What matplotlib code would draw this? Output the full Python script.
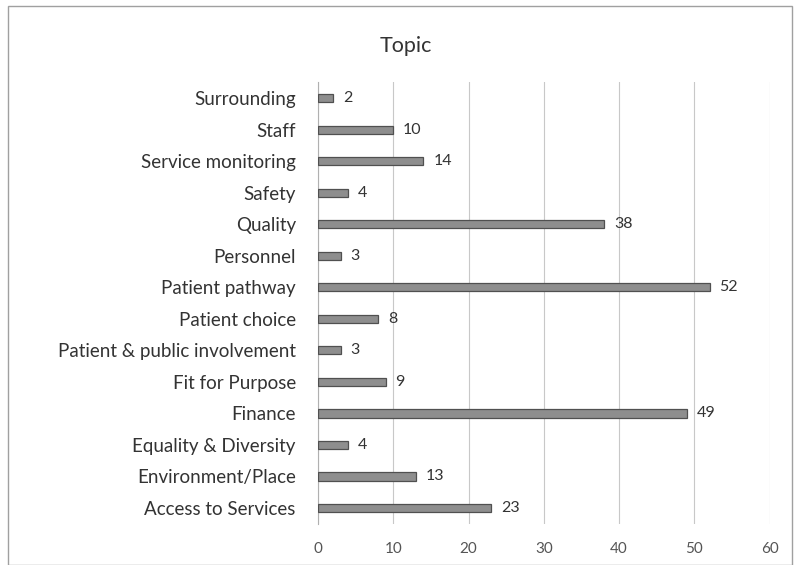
import matplotlib.pyplot as plt
from matplotlib.patches import Rectangle

plt.rcParams['font.family'] = ['Lato', 'DejaVu Sans']

# categories listed bottom to top
topics = ["Access to Services", "Environment/Place", "Equality & Diversity",
          "Finance", "Fit for Purpose", "Patient & public involvement",
          "Patient choice", "Patient pathway", "Personnel", "Quality",
          "Safety", "Service monitoring", "Staff", "Surrounding"]
counts = [23, 13, 4, 49, 9, 3, 8, 52, 3, 38, 4, 14, 10, 2]
x_ticks = [0, 10, 20, 30, 40, 50, 60]

fig = plt.figure(figsize=(7.96, 5.65), dpi=100)
ax = fig.add_axes([0.3995, 0.073, 0.5675, 0.781])

ypos = list(range(len(topics)))
ax.barh(ypos, counts, height=0.26, color="#8e8e8e", edgecolor="#505050", linewidth=0.9, zorder=3)
for y, v in zip(ypos, counts):
    ax.text(v + 1.3, y, str(v), va="center", ha="left", fontsize=11.5, color="#333333")

ax.set_xlim(0, 60)
ax.set_ylim(-0.5, len(topics) - 0.5)
ax.set_xticks(x_ticks)
ax.set_yticks(ypos)
ax.set_yticklabels(topics, fontsize=13.5, color="#333333")
ax.tick_params(axis="x", labelsize=11, colors="#555555", length=0, pad=13)
ax.tick_params(axis="y", length=0, pad=16)
ax.grid(axis="x", color="#c8c8c8", linewidth=0.8, zorder=0)
for s in ["top", "right", "bottom"]:
    ax.spines[s].set_visible(False)
ax.spines["left"].set_color("#b0b0b0")

fig.text(0.51, 0.918, "Topic", ha="center", va="center", fontsize=15.5, color="#333333")

# chart border
fig.patches.append(Rectangle((0.01, 0.0), 0.985, 0.99, transform=fig.transFigure,
                             fill=False, edgecolor="#a0a0a0", linewidth=1.0))

fig.savefig("out.png", dpi=100)
